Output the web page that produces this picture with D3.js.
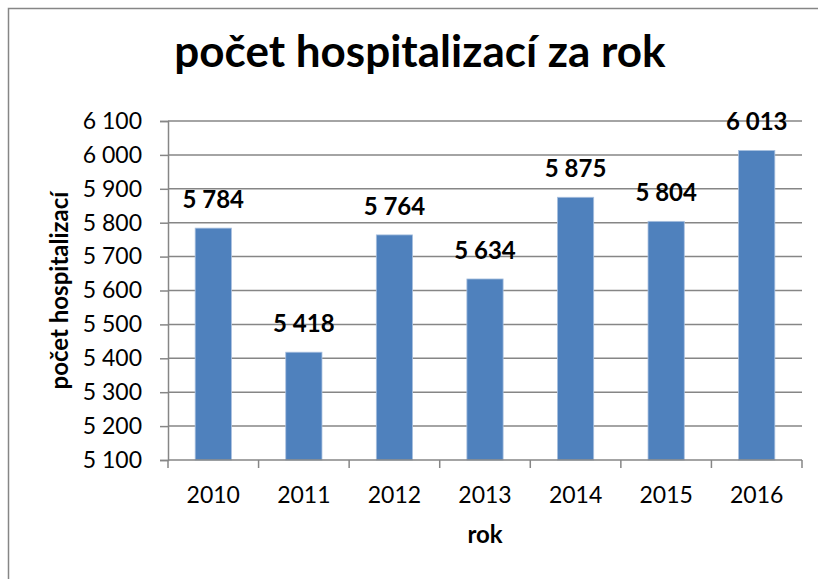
<!DOCTYPE html>
<html>
<head>
<meta charset="utf-8">
<script src="https://cdn.jsdelivr.net/npm/d3@7"></script>
<style>
  body { margin: 0; background: #fff; }
  text { font-family: Lato, "Open Sans", sans-serif; fill: #000; }
</style>
</head>
<body>
<svg id="chart" width="818" height="579"></svg>
<script>
// data
var years = ['2010', '2011', '2012', '2013', '2014', '2015', '2016'];
var counts = [5784, 5418, 5764, 5634, 5875, 5804, 6013];
var y_ticks = [5100, 5200, 5300, 5400, 5500, 5600, 5700, 5800, 5900, 6000, 6100];

var svg = d3.select('#chart');
var margin = {left: 168, right: 802, top: 121, bottom: 460};
var fmt = function(v) { return d3.format(',')(v).replace(/,/g, ' '); };

// outer chart frame (right and bottom edges fall outside the view)
svg.append('rect')
  .attr('x', 8.5).attr('y', 8.5)
  .attr('width', 900).attr('height', 700)
  .attr('fill', 'none')
  .attr('stroke', '#868686')
  .attr('stroke-width', 1.5);

var x_scale = d3.scaleBand()
  .domain(years)
  .range([margin.left, margin.right])
  .paddingInner(0.6)
  .paddingOuter(0.3);

var slot_scale = d3.scaleBand()
  .domain(years)
  .range([margin.left, margin.right])
  .padding(0);

var y_scale = d3.scaleLinear()
  .domain([5100, 6100])
  .range([margin.bottom, margin.top]);

// gridlines + y axis
var y_axis = svg.append('g')
  .attr('class', 'y_axis')
  .attr('transform', 'translate(' + margin.left + ',0)')
  .call(d3.axisLeft(y_scale)
    .tickValues(y_ticks)
    .tickSize(8)
    .tickPadding(18)
    .tickFormat(fmt));

y_axis.select('.domain').attr('stroke', '#868686').attr('stroke-width', 1.5);
y_axis.selectAll('.tick line').attr('stroke', '#868686').attr('stroke-width', 1.5);
y_axis.selectAll('.tick text')
  .style('font-size', '23px')
  .style('font-family', 'Lato, sans-serif');

svg.append('g')
  .attr('class', 'grid')
  .selectAll('line')
  .data(y_ticks.slice(1))
  .enter()
  .append('line')
  .attr('x1', margin.left)
  .attr('x2', margin.right)
  .attr('y1', function(d) { return y_scale(d); })
  .attr('y2', function(d) { return y_scale(d); })
  .attr('stroke', '#868686')
  .attr('stroke-width', 1.5);

// bars
svg.append('g')
  .selectAll('rect')
  .data(counts)
  .enter()
  .append('rect')
  .attr('x', function(d, i) { return x_scale(years[i]); })
  .attr('y', function(d) { return y_scale(d); })
  .attr('width', x_scale.bandwidth())
  .attr('height', function(d) { return margin.bottom - y_scale(d); })
  .attr('fill', '#4f81bd')
  .attr('stroke', '#a9c0df')
  .attr('stroke-width', 0.8);

// x axis line and tick marks between categories
svg.append('line')
  .attr('x1', margin.left).attr('x2', margin.right)
  .attr('y1', margin.bottom).attr('y2', margin.bottom)
  .attr('stroke', '#868686').attr('stroke-width', 1.5);

var boundaries = years.map(function(d) { return slot_scale(d); })
  .concat([margin.right]);

svg.append('g')
  .selectAll('line')
  .data(boundaries)
  .enter()
  .append('line')
  .attr('x1', function(d) { return d; })
  .attr('x2', function(d) { return d; })
  .attr('y1', margin.bottom)
  .attr('y2', margin.bottom + 8)
  .attr('stroke', '#868686')
  .attr('stroke-width', 1.5);

// category labels
svg.append('g')
  .selectAll('text')
  .data(years)
  .enter()
  .append('text')
  .attr('x', function(d) { return x_scale(d) + x_scale.bandwidth() / 2; })
  .attr('y', 503)
  .attr('text-anchor', 'middle')
  .style('font-size', '23px')
  .text(function(d) { return d; });

// data labels
svg.append('g')
  .selectAll('text')
  .data(counts)
  .enter()
  .append('text')
  .attr('x', function(d, i) { return x_scale(years[i]) + x_scale.bandwidth() / 2; })
  .attr('y', function(d) { return y_scale(d) - 20; })
  .attr('text-anchor', 'middle')
  .style('font-size', '24px')
  .style('font-weight', 'bold')
  .text(function(d) { return fmt(d); });

// title and axis titles
svg.append('text')
  .attr('x', 420)
  .attr('y', 67)
  .attr('text-anchor', 'middle')
  .style('font-size', '44px')
  .style('font-weight', 'bold')
  .text('počet hospitalizací za rok');

svg.append('text')
  .attr('x', (margin.left + margin.right) / 2)
  .attr('y', 543)
  .attr('text-anchor', 'middle')
  .style('font-size', '24px')
  .style('font-weight', 'bold')
  .text('rok');

svg.append('text')
  .attr('transform', 'translate(68,' + (margin.top + margin.bottom) / 2 + ') rotate(-90)')
  .attr('text-anchor', 'middle')
  .style('font-size', '24px')
  .style('font-weight', 'bold')
  .text('počet hospitalizací');
</script>
</body>
</html>
